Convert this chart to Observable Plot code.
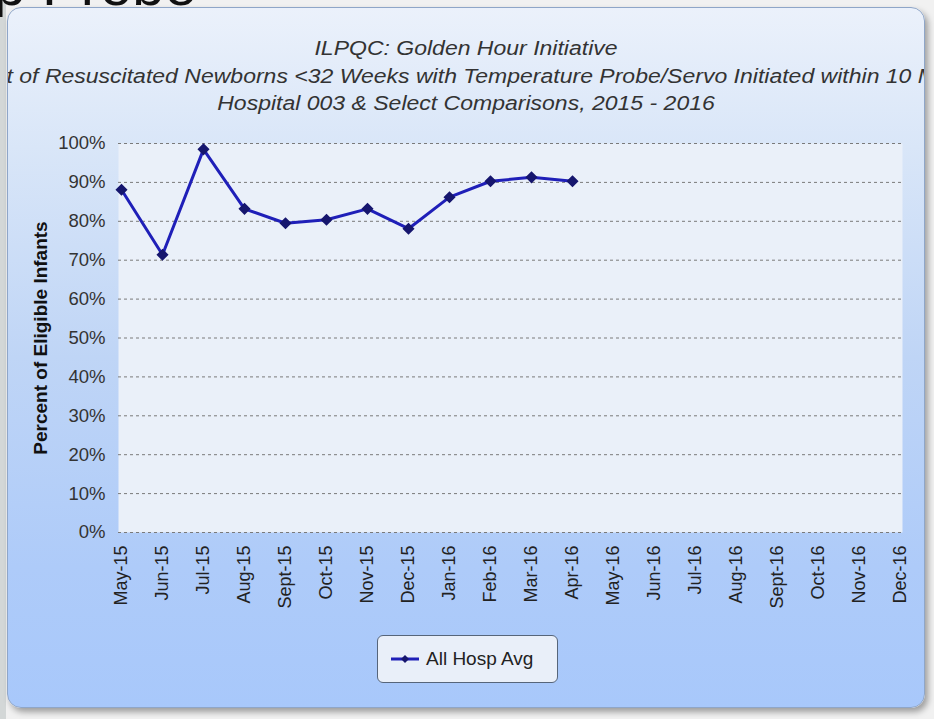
<!DOCTYPE html>
<html><head><meta charset="utf-8">
<script src="https://cdn.jsdelivr.net/npm/d3@7"></script>
<script src="https://cdn.jsdelivr.net/npm/@observablehq/plot@0.6"></script>
<style>
html,body{margin:0;padding:0;}
body{width:934px;height:719px;position:relative;overflow:hidden;background:#f1f1f1;font-family:"Liberation Sans",Arial,sans-serif;}
#strip{position:absolute;left:0;top:0;width:6px;height:719px;background:#d3d7d7;}
#top{position:absolute;left:-116px;top:-44px;font-size:58px;line-height:58px;color:#111;white-space:nowrap;z-index:0;}
#panel{position:absolute;left:7px;top:7px;width:916px;height:699px;border:1px solid #8fa6c8;border-radius:14px;overflow:hidden;
  background:linear-gradient(#ebf1fb 0%,#d9e6f8 20%,#bfd5f6 50%,#aecbf9 80%,#a8c8fb 100%);box-shadow:3px 4px 6px rgba(0,0,0,.35);z-index:1;}
.tl{position:absolute;left:50%;white-space:nowrap;font-style:italic;font-size:19.5px;line-height:24px;color:#333;transform:translate(-50%,-50%) scaleX(1.18);}
#legend{position:absolute;left:369px;top:627px;width:181px;height:48px;box-sizing:border-box;border:1px solid #56657a;border-radius:6px;background:#e9eff9;}
#legend svg{position:absolute;left:12px;top:16px;}
#legend span{position:absolute;left:48px;top:12px;font-size:19px;line-height:22px;color:#222;white-space:nowrap;}
#chart{position:absolute;left:0;top:120px;z-index:2;}
</style></head>
<body>
<div id="strip"></div>
<div id="top">Temp Probe</div>
<div id="panel">
  <div class="tl" id="t1" style="top:40px"></div>
  <div class="tl" id="t2" style="top:68px"></div>
  <div class="tl" id="t3" style="top:95px"></div>
  <div id="legend"><svg width="30" height="14"><line x1="1" y1="7" x2="29" y2="7" stroke="#1f1fb8" stroke-width="3"/><path d="M15,3L19,7L15,11L11,7Z" fill="#16166e"/></svg><span id="legtext"></span></div>
</div>
<div id="chart"></div>
<script>
const titleLines = [
  "ILPQC: Golden Hour Initiative",
  "Percent of Resuscitated Newborns <32 Weeks with Temperature Probe/Servo Initiated within 10 Minutes",
  "Hospital 003 & Select Comparisons, 2015 - 2016"
];
const seriesName = "All Hosp Avg";
const yAxisTitle = "Percent of Eligible Infants";
const months = ["May-15","Jun-15","Jul-15","Aug-15","Sept-15","Oct-15","Nov-15","Dec-15","Jan-16","Feb-16","Mar-16","Apr-16",
                "May-16","Jun-16","Jul-16","Aug-16","Sept-16","Oct-16","Nov-16","Dec-16"];
const values = [88.1, 71.4, 98.5, 83.2, 79.5, 80.4, 83.2, 78.1, 86.2, 90.3, 91.3, 90.3];
const yTicks = [0,10,20,30,40,50,60,70,80,90,100];
const yTickLabels = ["0%","10%","20%","30%","40%","50%","60%","70%","80%","90%","100%"];

document.getElementById("t1").textContent = titleLines[0];
document.getElementById("t2").textContent = titleLines[1];
document.getElementById("t3").textContent = titleLines[2];
document.getElementById("legtext").textContent = seriesName;

const data = values.map((v, i) => ({month: months[i], value: v}));
const font = '"Liberation Sans", Arial, sans-serif';

const chart = Plot.plot({
  width: 934, height: 500,
  marginLeft: 118, marginRight: 32, marginTop: 23, marginBottom: 88,
  style: {background: "transparent", fontFamily: font, overflow: "visible"},
  x: {type: "point", domain: months, padding: 0, label: null},
  y: {domain: [0, 100], label: null},
  marks: [
    Plot.frame({fill: "#eaf0f9", stroke: "none"}),
    Plot.ruleY(yTicks, {stroke: "#7a7a7a", strokeDasharray: "3,3", strokeWidth: 1}),
    Plot.axisY(yTicks, {tickSize: 0, tickPadding: 13, fontSize: 18.5, color: "#333", label: null,
      tickFormat: d => yTickLabels[yTicks.indexOf(d)]}),
    Plot.axisX(months, {tickSize: 0, tickPadding: 13, tickRotate: -90, fontSize: 18, color: "#222", label: null}),
    Plot.text([yAxisTitle], {text: d => d, frameAnchor: "left", textAnchor: "middle", dx: -78, rotate: -90,
      fontSize: 19, fontWeight: "bold", fill: "#111"}),
    Plot.line(data, {x: "month", y: "value", stroke: "#1f1fb8", strokeWidth: 3}),
    Plot.dot(data, {x: "month", y: "value", symbol: "diamond2", r: 4.5, fill: "#16166e", stroke: "#16166e"})
  ]
});
document.getElementById("chart").appendChild(chart);
</script>
</body></html>
